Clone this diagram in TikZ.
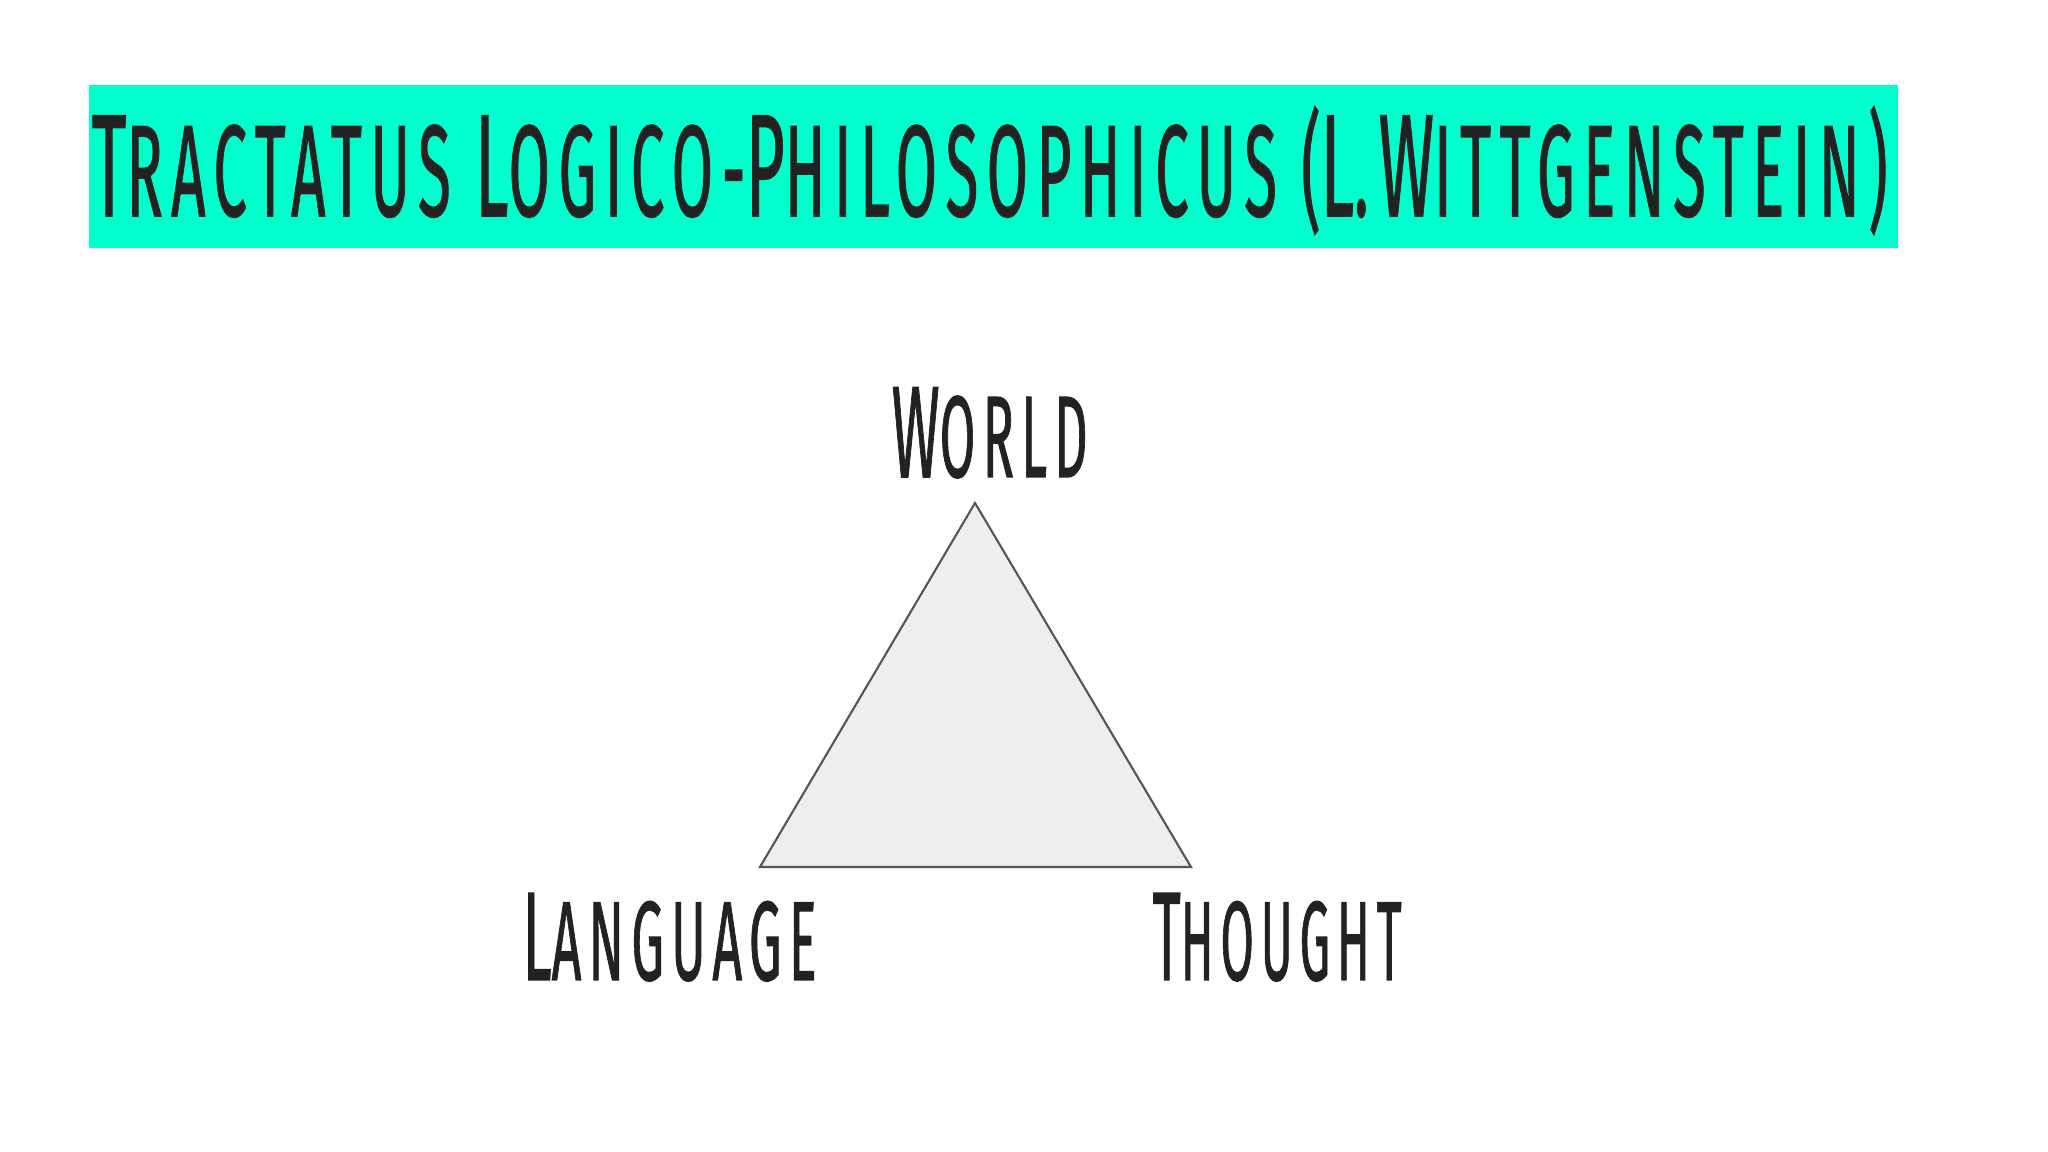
\documentclass[tikz,border=0pt]{standalone}
\usepackage{fontspec}
\setmainfont{Fira Sans}
\newfontfamily\handfont[LetterSpace=14, FakeBold=1.2]{Fira Sans}
\usepackage{graphicx}

\definecolor{barcol}{HTML}{00FFCC}
\definecolor{inkcol}{HTML}{222222}
\definecolor{trifill}{HTML}{EEEEEE}
\definecolor{triline}{HTML}{555555}

% first letter of a word a bit taller, like small caps
\newcommand{\firstcap}[1]{\scalebox{1.12}{#1}}
% condensed hand lettering: width fixed, height kept
\newcommand{\handtext}[3]{\resizebox{#1}{\height}{\fontsize{#2}{#2}\selectfont\handfont #3}}

\begin{document}
\begin{tikzpicture}
        \tikzstyle{every node}+=[inner sep=0pt, text=inkcol]
        \useasboundingbox (0,0) rectangle (20.48,11.52);
        \fill [barcol] (0.89,9.04) rectangle (18.98,10.67);
        \node (title) at (0.91,9.36) [anchor=base west] {\handtext{17.96cm}{37pt}{\firstcap{T}RACTATUS \firstcap{L}OGICO-\firstcap{P}HILOSOPHICUS (\firstcap{L}.\,\firstcap{W}ITTGENSTEIN)}};
        \coordinate (apex) at (9.75,6.49);
        \coordinate (lcorner) at (7.60,2.85);
        \coordinate (rcorner) at (11.91,2.85);
        \draw [triline, fill=trifill, line width=0.6pt] (apex) -- (lcorner) -- (rcorner) -- cycle;
        \node (world) at (8.91,6.75) [anchor=base west] {\handtext{1.96cm}{33pt}{\firstcap{W}ORLD}};
        \node (language) at (5.22,1.72) [anchor=base west] {\handtext{2.94cm}{32pt}{\firstcap{L}ANGUAGE}};
        \node (thought) at (11.52,1.72) [anchor=base west] {\handtext{2.49cm}{32pt}{\firstcap{T}HOUGHT}};
\end{tikzpicture}
\end{document}
